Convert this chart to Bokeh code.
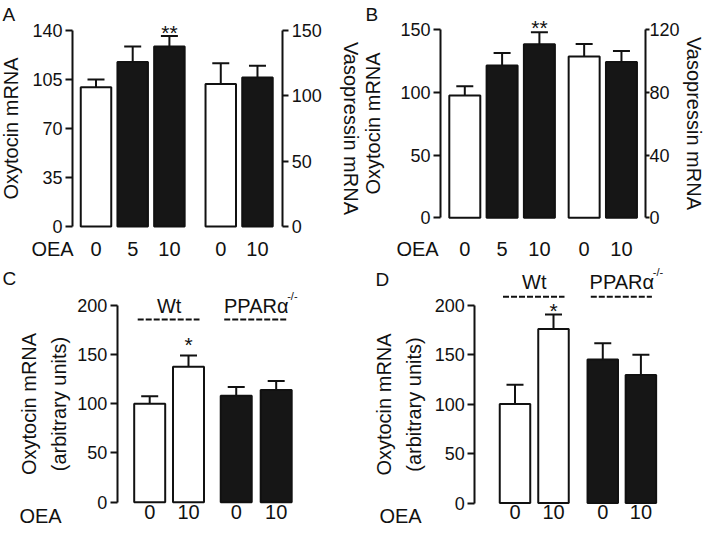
from bokeh.plotting import figure
from bokeh.layouts import column, row
from bokeh.models import (Range1d, LinearAxis, FixedTicker, Whisker, TeeHead,
                          ColumnDataSource)
from bokeh.core.properties import value
from bokeh.embed import file_html
from bokeh.resources import INLINE

FONT = "Liberation Sans"
INK = "#111111"
DARK = "#161616"
WHITE = "#ffffff"

# ---------------- data ----------------
# Panel A (left axis: oxytocin, right axis: vasopressin)
A_oxt_dose = ["0", "5", "10"]
A_oxt_mean = [99.5, 117.5, 128.5]
A_oxt_sem = [5.5, 11.0, 7.5]
A_oxt_sig = ["", "", "**"]
A_avp_dose = ["0", "10"]
A_avp_mean = [109.0, 114.0]
A_avp_sem = [16.0, 9.0]
A_oxt_ticks = [0, 35, 70, 105, 140]
A_avp_ticks = [0, 50, 100, 150]

# Panel B
B_oxt_dose = ["0", "5", "10"]
B_oxt_mean = [97.5, 121.5, 138.5]
B_oxt_sem = [7.5, 10.0, 9.5]
B_oxt_sig = ["", "", "**"]
B_avp_dose = ["0", "10"]
B_avp_mean = [103.0, 99.5]
B_avp_sem = [8.0, 7.0]
B_oxt_ticks = [0, 50, 100, 150]
B_avp_ticks = [0, 40, 80, 120]

# Panel C (Wt vs PPARalpha-/-)
C_wt_dose = ["0", "10"]
C_wt_mean = [100.0, 137.5]
C_wt_sem = [7.5, 11.5]
C_wt_sig = ["", "*"]
C_ko_dose = ["0", "10"]
C_ko_mean = [108.0, 114.0]
C_ko_sem = [9.0, 9.0]
C_ticks = [0, 50, 100, 150, 200]

# Panel D
D_wt_dose = ["0", "10"]
D_wt_mean = [100.0, 176.0]
D_wt_sem = [19.5, 14.5]
D_wt_sig = ["", "*"]
D_ko_dose = ["0", "10"]
D_ko_mean = [145.0, 129.5]
D_ko_sem = [16.5, 20.5]
D_ticks = [0, 50, 100, 150, 200]

GROUPS = ["Wt", "PPARα"]
GROUP_SUP = "-/-"
OXT_LABEL = "Oxytocin mRNA"
AVP_LABEL = "Vasopressin mRNA"
ARB_LABEL = "Oxytocin mRNA\n(arbitrary units)"
X_TITLE = "OEA"


class Panel:
    """Figure whose frame fills the whole figure; axes are drawn at fixed
    locations.  X()/Y() turn layout pixel positions into data space."""

    def __init__(self, W, H, ox, oy, y0, ppu, xc, slot):
        self.y0, self.ppu, self.xc, self.slot = y0, ppu, xc, slot
        self.oy, self.H = oy, H
        p = figure(width=W, height=H, output_backend="svg",
                   toolbar_location=None, tools="",
                   x_range=Range1d(self.X(ox), self.X(ox + W)),
                   y_range=Range1d(self.Y(oy + H), self.Y(oy)),
                   min_border_left=0, min_border_right=0,
                   min_border_top=0, min_border_bottom=0)
        p.outline_line_color = None
        p.grid.visible = False
        p.title.visible = False
        p.background_fill_color = WHITE
        p.border_fill_color = WHITE
        self.p = p

    def X(self, px):
        return (px - self.xc) / self.slot

    def Y(self, py):
        return (self.y0 - py) / self.ppu

    def add_right_range(self, ppu_r):
        self.p.extra_y_ranges = {"r": Range1d((self.y0 - self.oy - self.H) / ppu_r,
                                               (self.y0 - self.oy) / ppu_r)}


def style_y(ax, ticks, label, tick_out, tick_standoff, label_standoff,
            line_height=1.2):
    ax.ticker = FixedTicker(ticks=ticks)
    ax.bounds = (0, max(ticks))
    ax.axis_line_width = 2
    ax.axis_line_color = INK
    ax.major_tick_line_width = 2
    ax.major_tick_line_color = INK
    ax.major_tick_in = 0
    ax.major_tick_out = tick_out
    ax.minor_tick_line_color = None
    ax.major_label_text_font = FONT
    ax.major_label_text_font_size = "18px"
    ax.major_label_text_color = INK
    ax.major_label_standoff = tick_standoff
    ax.axis_label = label
    ax.axis_label_text_font = FONT
    ax.axis_label_text_font_size = "20px"
    ax.axis_label_text_font_style = "normal"
    ax.axis_label_text_color = INK
    ax.axis_label_text_line_height = line_height
    ax.axis_label_standoff = label_standoff


def style_x(ax, positions, labels, standoff):
    ax.ticker = FixedTicker(ticks=positions)
    ax.major_label_overrides = {x: t for x, t in zip(positions, labels)}
    ax.fixed_location = 0
    ax.axis_line_color = None
    ax.major_tick_line_color = None
    ax.major_tick_out = 0
    ax.major_tick_in = 0
    ax.minor_tick_line_color = None
    ax.major_label_text_font = FONT
    ax.major_label_text_font_size = "20px"
    ax.major_label_text_color = INK
    ax.major_label_standoff = standoff


def bars(panel, xs, means, sems, colors, bar_px, rng="default"):
    p = panel.p
    src = ColumnDataSource(dict(x=xs, top=means,
                                upper=[m + s for m, s in zip(means, sems)],
                                color=colors))
    p.vbar(x="x", top="top", bottom=0, width=bar_px / panel.slot, source=src,
           fill_color="color", line_color=INK, line_width=2, y_range_name=rng)
    p.add_layout(Whisker(source=src, base="x", lower="top", upper="upper",
                         dimension="height", line_color=INK, line_width=2,
                         upper_head=TeeHead(size=17, line_color=INK, line_width=2),
                         lower_head=None, y_range_name=rng))


def stars(panel, xs, means, sems, sig, gap_px, size=21):
    sx, sy, st = [], [], []
    for x, m, s, g in zip(xs, means, sems, sig):
        if g:
            sx.append(x)
            sy.append(m + s)
            st.append(g)
    # asterisk ink bottom sits ~0.083 em above the em-box middle
    panel.p.text(x=sx, y=sy, text=st, text_font=value(FONT),
                 text_font_size=f"{size}px", text_color=INK,
                 text_align="center", text_baseline="middle",
                 y_offset=0.083 * size - gap_px)


def note(panel, px, py, text, size, align="left"):
    """Text whose capital letters are centred on layout pixel row py."""
    panel.p.text(x=[panel.X(px)], y=[panel.Y(py)], text=[text],
                 text_font=value(FONT), text_font_size=f"{size}px",
                 text_color=INK, text_align=align, text_baseline="middle")


def group_header(panel, xs, text, mid_py, dash_py, sup=None):
    p = panel.p
    cx = sum(xs) / len(xs)
    p.text(x=[cx], y=[panel.Y(mid_py)], text=[text], text_font=value(FONT),
           text_font_size="20px", text_color=INK, text_align="center",
           text_baseline="middle")
    if sup:
        p.text(x=[cx], y=[panel.Y(mid_py)], text=[sup], text_font=value(FONT),
               text_font_size="11px", text_color=INK, text_align="left",
               text_baseline="middle", x_offset=31, y_offset=-10)
    p.segment(x0=[xs[0] - 12 / panel.slot], x1=[xs[-1] + 11 / panel.slot],
              y0=[panel.Y(dash_py)], y1=[panel.Y(dash_py)],
              line_color=INK, line_width=2, line_dash="6 2")


# ---------------- Panel A ----------------
A = Panel(W=361, H=262, ox=0, oy=0, y0=226, ppu=196 / 140, xc=95.5, slot=36.7)
A.add_right_range(196 / 150)
A_pos_oxt = [0, 1, 2]
A_pos_avp = [3.4, 4.4]
bars(A, A_pos_oxt, A_oxt_mean, A_oxt_sem, [WHITE, DARK, DARK], 30.5)
bars(A, A_pos_avp, A_avp_mean, A_avp_sem, [WHITE, DARK], 30.5, rng="r")
stars(A, A_pos_oxt, A_oxt_mean, A_oxt_sem, A_oxt_sig, 5.7)
ayl = A.p.yaxis[0]
ayl.fixed_location = A.X(72)
style_y(ayl, A_oxt_ticks, OXT_LABEL, 7, 3, 7)
ayr = LinearAxis(y_range_name="r", fixed_location=A.X(282.3))
A.p.add_layout(ayr, "right")
style_y(ayr, A_avp_ticks, AVP_LABEL, 6, 3, 15)
style_x(A.p.xaxis[0], A_pos_oxt + A_pos_avp, A_oxt_dose + A_avp_dose, 15)
note(A, 2, 14, "A", 19)
note(A, 52, 248.8, X_TITLE, 20, align="center")

# ---------------- Panel B ----------------
B = Panel(W=343, H=262, ox=371, oy=0, y0=217.3, ppu=188 / 150, xc=474.3,
          slot=37.3)
B.add_right_range(188 / 120)
B_pos_oxt = [0, 1, 2]
B_pos_avp = [3.2, 4.2]
bars(B, B_pos_oxt, B_oxt_mean, B_oxt_sem, [WHITE, DARK, DARK], 31)
bars(B, B_pos_avp, B_avp_mean, B_avp_sem, [WHITE, DARK], 31, rng="r")
stars(B, B_pos_oxt, B_oxt_mean, B_oxt_sem, B_oxt_sig, 7)
byl = B.p.yaxis[0]
byl.fixed_location = B.X(450)
style_y(byl, B_oxt_ticks, OXT_LABEL, 7, 3, 13)
byr = LinearAxis(y_range_name="r", fixed_location=B.X(655))
B.p.add_layout(byr, "right")
style_y(byr, B_avp_ticks, AVP_LABEL, 4, 0, 0)
style_x(B.p.xaxis[0], B_pos_oxt + B_pos_avp, B_oxt_dose + B_avp_dose, 24)
note(B, 375, 14, "B", 19)
note(B, 427, 248.8, X_TITLE, 20, align="center")

# ---------------- Panel C ----------------
C = Panel(W=352, H=265, ox=0, oy=273, y0=512.7, ppu=197 / 200, xc=149.2,
          slot=38.8)
C_pos_wt = [0, 1]
C_pos_ko = [2.23, 3.26]
bars(C, C_pos_wt, C_wt_mean, C_wt_sem, [WHITE, WHITE], 31)
bars(C, C_pos_ko, C_ko_mean, C_ko_sem, [DARK, DARK], 31)
stars(C, C_pos_wt, C_wt_mean, C_wt_sem, C_wt_sig, 12.7)
group_header(C, C_pos_wt, GROUPS[0], 316.7, 330)
group_header(C, C_pos_ko, GROUPS[1], 316.7, 330, sup=GROUP_SUP)
cyl = C.p.yaxis[0]
cyl.fixed_location = C.X(116.7)
style_y(cyl, C_ticks, ARB_LABEL, 7, 3, 4, line_height=1.4)
style_x(C.p.xaxis[0], C_pos_wt + C_pos_ko, C_wt_dose + C_ko_dose, 3)
note(C, 2, 289, "C", 19)
note(C, 40, 526.6, X_TITLE, 20, align="center")

# ---------------- Panel D ----------------
D = Panel(W=352, H=265, ox=352, oy=273, y0=513.5, ppu=197.8 / 200, xc=514.5,
          slot=38.5)
D_pos_wt = [0, 1]
D_pos_ko = [2.28, 3.27]
bars(D, D_pos_wt, D_wt_mean, D_wt_sem, [WHITE, WHITE], 30.5)
bars(D, D_pos_ko, D_ko_mean, D_ko_sem, [DARK, DARK], 30.5)
stars(D, D_pos_wt, D_wt_mean, D_wt_sem, D_wt_sig, 5.7)
group_header(D, D_pos_wt, GROUPS[0], 292.5, 307.3)
group_header(D, D_pos_ko, GROUPS[1], 292.5, 307.3, sup=GROUP_SUP)
dyl = D.p.yaxis[0]
dyl.fixed_location = D.X(474.3)
style_y(dyl, D_ticks, ARB_LABEL, 7, 3, 6, line_height=1.4)
style_x(D.p.xaxis[0], D_pos_wt + D_pos_ko, D_wt_dose + D_ko_dose, 2)
note(D, 375, 289.5, "D", 19)
note(D, 400, 526.6, X_TITLE, 20, align="center")

layout = column(row(A.p, B.p), row(C.p, D.p))
open("out.html", "w").write(file_html(layout, INLINE, title="OEA oxytocin"))
